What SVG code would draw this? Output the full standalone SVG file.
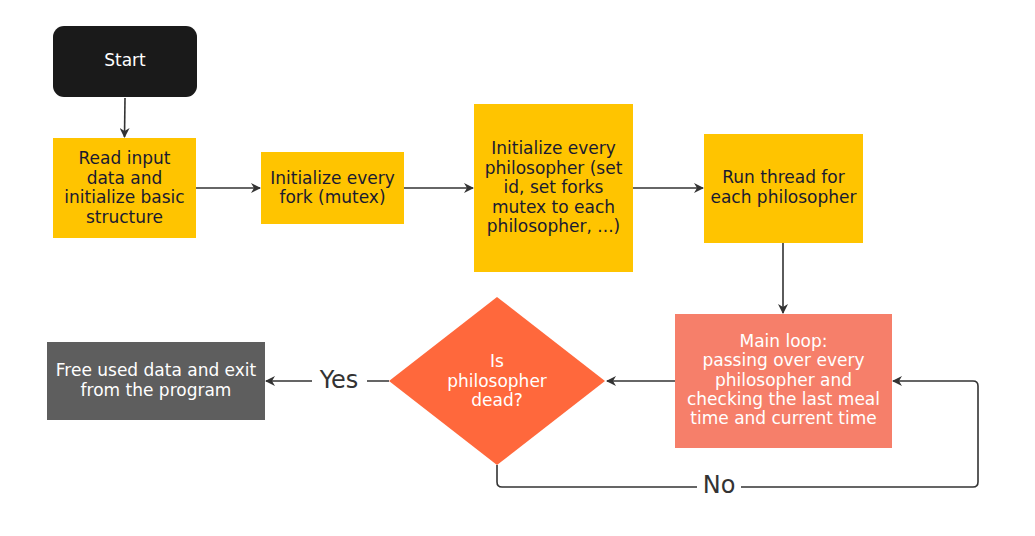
<svg xmlns="http://www.w3.org/2000/svg" width="1035" height="536" viewBox="0 0 1035 536">
<defs>
<style>
.t{font-family:"DejaVu Sans","Liberation Sans",sans-serif;font-size:17px;text-anchor:middle;dominant-baseline:central}
.dk{fill:#1a1a30}
.wt{fill:#ffffff}
.yl{fill:#ffc400}
.lbl{font-family:"DejaVu Sans","Liberation Sans",sans-serif;font-size:24px;fill:#333333;text-anchor:middle;dominant-baseline:central}
.c{fill:none;stroke:#333333;stroke-width:1.6}
</style>
<marker id="ah" viewBox="0 0 10 10" refX="9" refY="5" markerWidth="10" markerHeight="10" markerUnits="userSpaceOnUse" orient="auto">
<path d="M0,0 L10,5 L0,10 L3,5 Z" fill="#333333"/>
</marker>
</defs>
<rect width="1035" height="536" fill="#ffffff"/>
<g id="connectors">
<path class="c" d="M125,98 L124.5,137" marker-end="url(#ah)"/>
<path class="c" d="M196,188 L260,188" marker-end="url(#ah)"/>
<path class="c" d="M404,188 L473,188" marker-end="url(#ah)"/>
<path class="c" d="M633,188 L703,188" marker-end="url(#ah)"/>
<path class="c" d="M783,243 L783,313" marker-end="url(#ah)"/>
<path class="c" d="M675,381 L607,381" marker-end="url(#ah)"/>
<path class="c" d="M389,381 L367,381 M312,381 L266,381" marker-end="url(#ah)"/>
<text class="lbl" x="339" y="380">Yes</text>
<path class="c" d="M497,465 L497,482 Q497,487 502,487 L697,487 M741,487 L973,487 Q978,487 978,482 L978,386 Q978,381 973,381 L893,381" marker-end="url(#ah)"/>
<text class="lbl" x="719" y="485">No</text>
</g>
<g id="start">
<rect x="53" y="26" width="144" height="71" rx="11" fill="#1a1a1a"/>
<text class="t wt" x="125" y="60">Start</text>
</g>
<g id="read-input">
<rect x="53" y="138" width="143" height="100" class="yl"/>
<text class="t dk" x="124.5" y="158">Read input</text>
<text class="t dk" x="124.5" y="177.5">data and</text>
<text class="t dk" x="124.5" y="197">initialize basic</text>
<text class="t dk" x="124.5" y="216.5">structure</text>
</g>
<g id="init-forks">
<rect x="261" y="152" width="143" height="72" class="yl"/>
<text class="t dk" x="332.5" y="177.5">Initialize every</text>
<text class="t dk" x="332.5" y="197">fork (mutex)</text>
</g>
<g id="init-philosophers">
<rect x="474" y="104" width="159" height="168" class="yl"/>
<text class="t dk" x="553.5" y="148">Initialize every</text>
<text class="t dk" x="553.5" y="167.5">philosopher (set</text>
<text class="t dk" x="553.5" y="187">id, set forks</text>
<text class="t dk" x="553.5" y="206.5">mutex to each</text>
<text class="t dk" x="553.5" y="226">philosopher, ...)</text>
</g>
<g id="run-threads">
<rect x="704" y="134" width="159" height="109" class="yl"/>
<text class="t dk" x="783.5" y="177">Run thread for</text>
<text class="t dk" x="783.5" y="196.5">each philosopher</text>
</g>
<g id="main-loop">
<rect x="675" y="314" width="217" height="134" fill="#f67f6a"/>
<text class="t wt" x="783.5" y="340.5">Main loop:</text>
<text class="t wt" x="783.5" y="360">passing over every</text>
<text class="t wt" x="783.5" y="379.5">philosopher and</text>
<text class="t wt" x="783.5" y="399">checking the last meal</text>
<text class="t wt" x="783.5" y="418">time and current time</text>
</g>
<g id="is-dead">
<polygon points="497,297 605,381 497,465 389,381" fill="#ff683c"/>
<text class="t wt" x="497" y="361">Is</text>
<text class="t wt" x="497" y="380.5">philosopher</text>
<text class="t wt" x="497" y="400">dead?</text>
</g>
<g id="free-exit">
<rect x="47" y="342" width="218" height="78" fill="#5e5e5e"/>
<text class="t wt" x="156" y="370">Free used data and exit</text>
<text class="t wt" x="156" y="389.5">from the program</text>
</g>
</svg>
